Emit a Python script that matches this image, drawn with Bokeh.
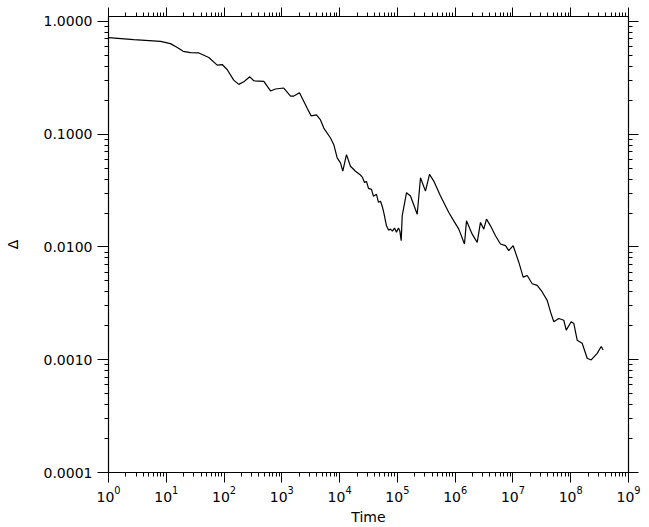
from bokeh.plotting import figure
from bokeh.models import (LogAxis, FixedTicker, LogTickFormatter, PrintfTickFormatter,
                          CustomJSTickFormatter, Range1d)
from bokeh.embed import file_html
from bokeh.resources import INLINE

# ---- data ----
time_vals = [1, 2.74, 7.94, 11.8, 15.5, 19.6, 26.3, 36.6, 54.5, 76.1, 92.9, 113, 147, 180, 220,
             279, 327, 488, 637, 777, 1081, 1413, 1611, 2023, 2748, 3222, 3981, 4670, 5325,
             6953, 7930, 9080, 10350, 11350, 13150, 15420, 18830, 22340, 24890, 26970, 29170,
             31620, 35640, 38550, 43450, 47100, 51030, 55210, 58160, 64750, 70150, 75960,
             82220, 89130, 96390, 104400, 110100, 116400,
             121100, 143800, 168600, 220300, 251200, 306300, 359500, 426600, 557200, 776200,
             946400, 1156000, 1449000, 1570000, 1972000, 2405000, 2742000, 3128000, 3483000,
             4085000, 4986000, 6083000, 7425000, 8472000, 10090000, 12620000, 15040000,
             17650000, 21540000, 26300000, 32080000, 39170000, 44670000, 50930000, 62130000,
             75860000, 83560000, 101900000, 113000000, 129400000, 157800000, 192700000,
             226000000, 287100000, 336500000, 364800000]
delta_vals = [0.718, 0.690, 0.666, 0.636, 0.587, 0.544, 0.530, 0.526, 0.479, 0.410, 0.415, 0.375,
              0.302, 0.277, 0.292, 0.323, 0.298, 0.294, 0.242, 0.252, 0.257, 0.218, 0.218, 0.233,
              0.170, 0.1455, 0.1485, 0.134, 0.1134, 0.0926, 0.0808, 0.0617, 0.0558, 0.0470,
              0.0660, 0.0520, 0.0470, 0.0440, 0.04136, 0.03739, 0.03815,
              0.03310, 0.03243, 0.02813, 0.02931, 0.02491, 0.02542, 0.02251, 0.0202, 0.0154,
              0.01412, 0.0144, 0.01383, 0.01471, 0.01355, 0.01471, 0.0139, 0.01136, 0.01887,
              0.0303, 0.0283, 0.01953, 0.0411, 0.0313, 0.0440, 0.0384, 0.0283, 0.0202, 0.01705,
              0.0144, 0.01063, 0.01705, 0.0130, 0.0110, 0.0165, 0.0144, 0.01765, 0.0154,
              0.01258, 0.01063, 0.01027, 0.00928, 0.01027, 0.00733, 0.00541, 0.00559, 0.00472,
              0.00456, 0.00399, 0.00336, 0.00266, 0.00217, 0.00232, 0.00224, 0.00183, 0.00217,
              0.00210, 0.00149, 0.00140, 0.00103, 0.000996, 0.00114, 0.00131, 0.00122]

x_major = [1, 10, 100, 1e3, 1e4, 1e5, 1e6, 1e7, 1e8, 1e9]
y_major = [1e-4, 1e-3, 1e-2, 1e-1, 1.0]
x_label = "Time"
y_label = "Δ"

x_minor = [m * d for d in x_major[:-1] for m in range(2, 10)]
y_minor = [m * d for d in y_major[:-1] for m in range(2, 10)]

FONT = "DejaVu Sans"

p = figure(width=649, height=527, x_axis_type="log", y_axis_type="log",
           x_range=Range1d(1, 1e9), y_range=Range1d(1e-4, 1.107),
           output_backend="svg", toolbar_location=None,
           min_border_left=108, min_border_right=21, min_border_top=16, min_border_bottom=52)
p.background_fill_color = "white"
p.border_fill_color = "white"
p.outline_line_color = "black"
p.grid.visible = False

p.line(time_vals, delta_vals, line_color="black", line_width=1.2)

def style(ax, major_out):
    ax.axis_line_color = "black"
    ax.axis_line_width = 1.2
    ax.major_tick_line_color = "black"
    ax.minor_tick_line_color = "black"
    ax.major_tick_in = 0
    ax.minor_tick_in = 0
    ax.major_tick_out = major_out
    ax.minor_tick_out = 4
    ax.major_label_text_font = FONT
    ax.major_label_text_font_size = "14px"
    ax.major_label_text_color = "black"
    ax.axis_label_text_font = FONT
    ax.axis_label_text_font_size = "14px"
    ax.axis_label_text_font_style = "normal"
    ax.axis_label_text_color = "black"

xa = p.xaxis[0]
xa.ticker = FixedTicker(ticks=x_major, minor_ticks=x_minor)
xa.formatter = LogTickFormatter()
xa.axis_label = x_label
xa.axis_label_standoff = 4
xa.major_label_standoff = 3
style(xa, 10)

ya = p.yaxis[0]
ya.ticker = FixedTicker(ticks=y_major, minor_ticks=y_minor)
ya.formatter = PrintfTickFormatter(format="%.4f")
ya.axis_label = y_label
ya.axis_label_standoff = 20
ya.major_label_standoff = 5
style(ya, 11)

blank = CustomJSTickFormatter(code="return ''")
top = LogAxis(ticker=FixedTicker(ticks=x_major, minor_ticks=x_minor), formatter=blank)
style(top, 9)
top.major_label_standoff = 0
top.major_label_text_font_size = "0px"
p.add_layout(top, "above")

right = LogAxis(ticker=FixedTicker(ticks=y_major, minor_ticks=y_minor), formatter=blank)
style(right, 10)
right.major_label_standoff = 0
right.major_label_text_font_size = "0px"
p.add_layout(right, "right")

open("out.html", "w").write(file_html(p, INLINE))
